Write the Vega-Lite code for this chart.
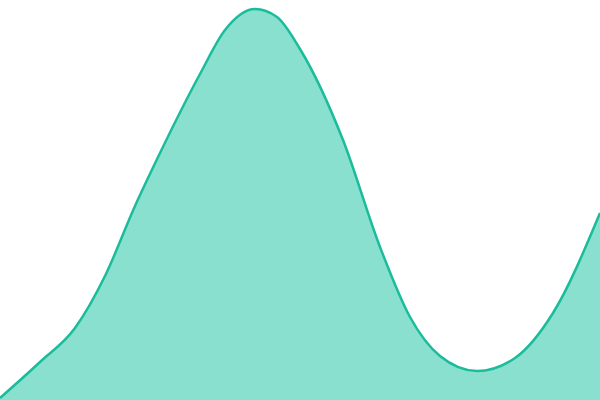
{
  "$schema": "https://vega.github.io/schema/vega-lite/v6.json",
  "width": 600,
  "height": 400,
  "autosize": "none",
  "padding": 0,
  "background": "white",
  "view": {"stroke": null},
  "data": {
    "values": [
      {"x": 0, "v": 2},
      {"x": 40, "v": 38},
      {"x": 75, "v": 72},
      {"x": 105, "v": 124},
      {"x": 135, "v": 194},
      {"x": 160, "v": 247},
      {"x": 200, "v": 326},
      {"x": 225, "v": 370},
      {"x": 255, "v": 391},
      {"x": 277, "v": 383},
      {"x": 300, "v": 351},
      {"x": 343, "v": 260},
      {"x": 380, "v": 153},
      {"x": 410, "v": 83},
      {"x": 440, "v": 44},
      {"x": 477, "v": 29},
      {"x": 515, "v": 42},
      {"x": 553, "v": 87},
      {"x": 600, "v": 187}
    ]
  },
  "mark": {
    "type": "area",
    "interpolate": "monotone",
    "fill": "#89e0cf",
    "fillOpacity": 1,
    "line": {"stroke": "#1abc9c", "strokeWidth": 2.5}
  },
  "encoding": {
    "x": {"field": "x", "type": "quantitative", "axis": null, "scale": {"domain": [0, 600], "nice": false}},
    "y": {"field": "v", "type": "quantitative", "axis": null, "scale": {"domain": [0, 400], "nice": false}}
  }
}
